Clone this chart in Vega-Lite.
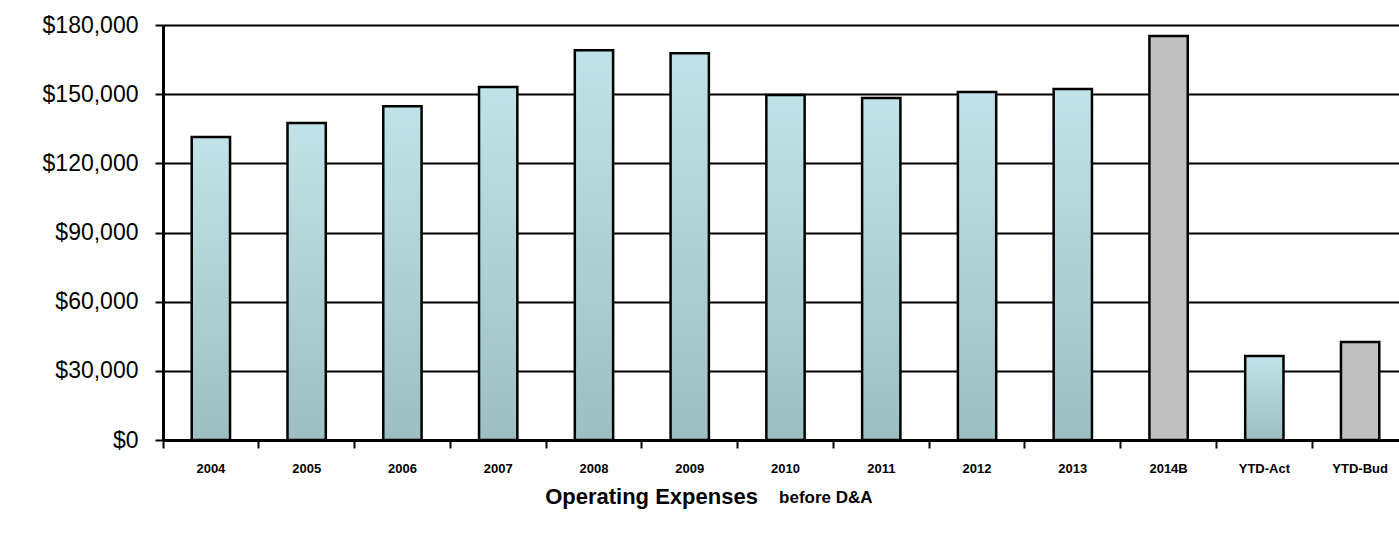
{
  "$schema": "https://vega.github.io/schema/vega-lite/v6.json",
  "width": 1236,
  "height": 415,
  "autosize": "none",
  "padding": {"left": 163, "top": 25, "right": 0, "bottom": 102},
  "background": "white",
  "config": {
    "view": {"stroke": null},
    "font": "Liberation Sans"
  },
  "title": {
    "text": "before D&A",
    "orient": "bottom",
    "anchor": "start",
    "dx": 737,
    "dy": -21,
    "fontSize": 17,
    "fontWeight": "bold",
    "color": "black",
    "font": "Liberation Sans"
  },
  "data": {
    "values": [
      {"period": "2004", "expense": 131400, "kind": "actual"},
      {"period": "2005", "expense": 137500, "kind": "actual"},
      {"period": "2006", "expense": 144800, "kind": "actual"},
      {"period": "2007", "expense": 153100, "kind": "actual"},
      {"period": "2008", "expense": 169100, "kind": "actual"},
      {"period": "2009", "expense": 167800, "kind": "actual"},
      {"period": "2010", "expense": 149600, "kind": "actual"},
      {"period": "2011", "expense": 148300, "kind": "actual"},
      {"period": "2012", "expense": 150900, "kind": "actual"},
      {"period": "2013", "expense": 152200, "kind": "actual"},
      {"period": "2014B", "expense": 175200, "kind": "budget"},
      {"period": "YTD-Act", "expense": 36400, "kind": "actual"},
      {"period": "YTD-Bud", "expense": 42500, "kind": "budget"}
    ]
  },
  "encoding": {
    "x": {
      "field": "period",
      "type": "nominal",
      "sort": null,
      "scale": {
        "domain": ["2004", "2005", "2006", "2007", "2008", "2009", "2010", "2011", "2012", "2013", "2014B", "YTD-Act", "YTD-Bud"],
        "paddingInner": 0,
        "paddingOuter": 0,
        "range": [0, 1245]
      },
      "axis": {
        "bandPosition": 0,
        "labelAngle": 0,
        "labelFontSize": 13,
        "labelFontWeight": "bold",
        "labelColor": "black",
        "labelPadding": 14,
        "ticks": true,
        "tickSize": 8,
        "tickWidth": 2,
        "tickColor": "black",
        "domainColor": "black",
        "domainWidth": 3,
        "grid": false,
        "title": "Operating Expenses",
        "titleFontSize": 22,
        "titleFontWeight": "bold",
        "titleColor": "black",
        "titleX": 488,
        "titleY": 56,
        "titleAlign": "center",
        "titleBaseline": "middle"
      }
    },
    "y": {
      "field": "expense",
      "type": "quantitative",
      "scale": {"domain": [0, 180000], "nice": false, "zero": true},
      "axis": {
        "values": [0, 30000, 60000, 90000, 120000, 150000, 180000],
        "format": "$,.0f",
        "labelFontSize": 23,
        "labelColor": "black",
        "labelPadding": 17,
        "tickSize": 8,
        "tickWidth": 2,
        "tickColor": "black",
        "domainColor": "black",
        "domainWidth": 3,
        "grid": true,
        "gridColor": "black",
        "gridWidth": 2,
        "gridOpacity": 1,
        "title": null
      }
    }
  },
  "layer": [
    {
      "transform": [{"filter": "datum.kind === 'actual'"}],
      "mark": {
        "type": "bar",
        "width": {"band": 0.4},
        "stroke": "black",
        "strokeWidth": 2.5,
        "fill": {
          "gradient": "linear",
          "x1": 0, "y1": 0, "x2": 0, "y2": 1,
          "stops": [
            {"offset": 0, "color": "#c0e3e7"},
            {"offset": 1, "color": "#9dbfc1"}
          ]
        }
      }
    },
    {
      "transform": [{"filter": "datum.kind === 'budget'"}],
      "mark": {
        "type": "bar",
        "width": {"band": 0.4},
        "stroke": "black",
        "strokeWidth": 2.5,
        "fill": "#c0c0c0"
      }
    }
  ]
}
